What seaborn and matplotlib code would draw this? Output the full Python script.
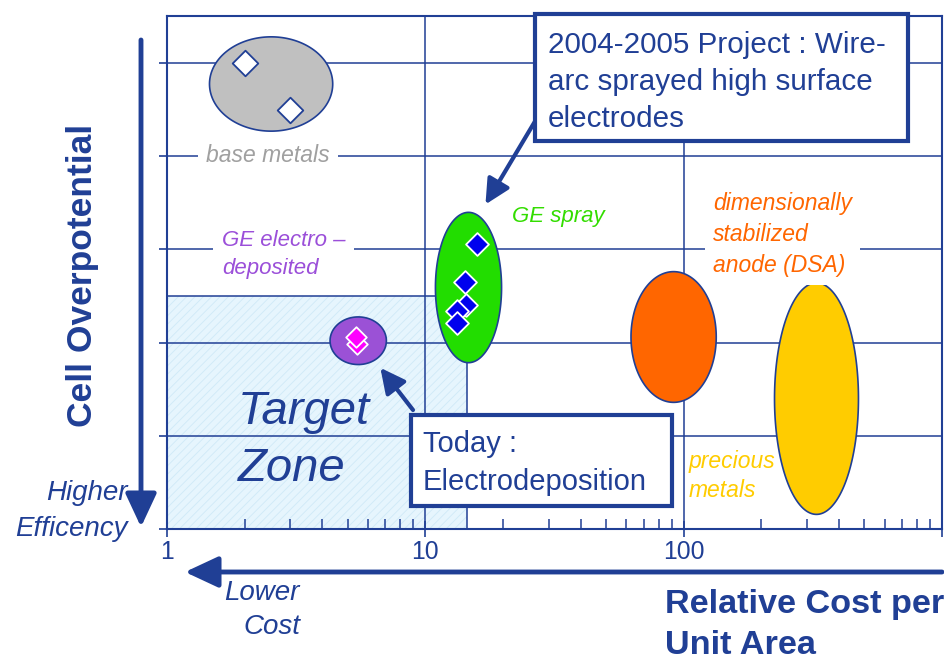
import numpy as np
import pandas as pd
import seaborn as sns
import matplotlib.pyplot as plt
from matplotlib import font_manager
from matplotlib.patches import Rectangle, FancyArrowPatch

# electrode families: ellipse centre (cost, overpotential), width in decades, height
group_names = ["base metals", "GE electro", "GE spray", "DSA", "precious metals"]
group_cost = [2.53, 5.5, 14.7, 91.5, 327]
group_level = [4.77, 2.02, 2.59, 2.06, 1.40]
group_width = [0.477, 0.218, 0.256, 0.33, 0.325]
group_height = [1.01, 0.51, 1.61, 1.40, 2.48]
group_fill = ["#c0c0c0", "#9b51d6", "#22dd00", "#ff6600", "#ffcc00"]

# measured samples
base_cost = [2.0, 3.0]
base_level = [5.0, 4.49]
electro_cost = [5.45, 5.4]
electro_level = [1.99, 2.06]
spray_cost = [15.8, 14.2, 14.4, 13.3, 13.3]
spray_level = [3.06, 2.65, 2.40, 2.34, 2.21]

# target zone
target_cost = 14.5
target_level = 2.5

xtick_values = [1, 10, 100]
xtick_labels = ["1", "10", "100"]

dark = "#203f95"

sns.set_style("white")
names = {f.name for f in font_manager.fontManager.ttflist}
has_narrow = "Liberation Sans Narrow" in names
narrow = "Liberation Sans Narrow" if has_narrow else "Liberation Sans"
ns = 1.0 if has_narrow else 0.85
plt.rcParams["font.family"] = ["Liberation Sans", "DejaVu Sans"]
plt.rcParams["hatch.linewidth"] = 0.6

fig = plt.figure(figsize=(9.45, 6.6), dpi=100)
ax = fig.add_axes([0.1767, 0.198, 0.820, 0.778])
ax.set_xscale("log")
ax.set_xlim(1, 1000)
ax.set_ylim(0, 5.5)

# target zone
ax.add_patch(Rectangle((1, 0), target_cost - 1, target_level, facecolor="#e6f5fd",
                       edgecolor="#cfe9f7", hatch="////", lw=0, zorder=0.5))
ax.add_patch(Rectangle((1, 0), target_cost - 1, target_level, facecolor="none",
                       edgecolor=dark, lw=1.1, zorder=1))

# grid
for yv in [1, 2, 3, 4, 5]:
    ax.axhline(yv, color=dark, lw=1.1, zorder=1)
for xv in [10, 100]:
    ax.axvline(xv, color=dark, lw=1.1, zorder=1)

# ellipses (drawn in log space so they look round on screen)
t = np.linspace(0, 2 * np.pi, 300)
for cx, cy, w, h, c in zip(group_cost, group_level, group_width, group_height, group_fill):
    xs = 10 ** (np.log10(cx) + w / 2 * np.cos(t))
    ys = cy + h / 2 * np.sin(t)
    ax.fill(xs, ys, facecolor=c, edgecolor=dark, lw=1.2, zorder=2)

base = pd.DataFrame({"cost": base_cost, "level": base_level})
electro = pd.DataFrame({"cost": electro_cost, "level": electro_level})
spray = pd.DataFrame({"cost": spray_cost, "level": spray_level})
sns.scatterplot(data=base, x="cost", y="level", marker="D", s=170, color="white",
                edgecolor=dark, linewidth=1.3, ax=ax, zorder=3)
sns.scatterplot(data=electro, x="cost", y="level", marker="D", s=110, color="#ff00ff",
                edgecolor="white", linewidth=1.3, ax=ax, zorder=3)
sns.scatterplot(data=spray, x="cost", y="level", marker="D", s=135, color="#0000ee",
                edgecolor="white", linewidth=1.3, ax=ax, zorder=3)

# axes styling
for sp in ax.spines.values():
    sp.set_color(dark)
    sp.set_linewidth(1.5)
ax.set_xlabel("")
ax.set_ylabel("")
ax.set_yticks([0, 1, 2, 3, 4, 5])
ax.tick_params(axis="y", which="both", left=True, direction="out", length=6,
               width=1.2, color=dark, labelleft=False)
ax.set_xticks(xtick_values + [1000])
ax.set_xticklabels(xtick_labels + [""])
ax.tick_params(axis="x", which="major", bottom=True, direction="inout", length=12,
               width=1.2, color=dark, labelcolor=dark, labelsize=21 * ns, pad=2)
ax.tick_params(axis="x", which="minor", bottom=True, direction="in", length=7,
               width=1.1, color=dark)
for lab in ax.get_xticklabels():
    lab.set_fontfamily(narrow)

# group labels
wb = dict(facecolor="white", edgecolor="none", pad=6)
ax.text(2.46, 4.0, "base metals", color="#a0a0a0", style="italic", fontsize=16.5,
        ha="center", va="center", bbox=wb, zorder=2)
ax.text(1.63, 2.94, "GE electro \u2013\ndeposited", color="#9b4fd9", style="italic",
        fontsize=16, ha="left", va="center", linespacing=1.45, bbox=wb, zorder=2)
ax.text(21.7, 3.35, "GE spray", color="#33dd00", style="italic", fontsize=16,
        ha="left", va="center", zorder=2)
ax.text(130, 3.16, "dimensionally\nstabilized\nanode (DSA)", color="#ff6600",
        style="italic", fontsize=16.5, ha="left", va="center", linespacing=1.45,
        bbox=wb, zorder=2)
ax.text(105, 0.57, "precious\nmetals", color="#ffcc00", style="italic", fontsize=16.5,
        ha="left", va="center", linespacing=1.35, zorder=4)
ax.text(1.88, 0.95, "Target\nZone", color=dark, style="italic", fontsize=34,
        ha="left", va="center", linespacing=1.4, zorder=4)

# callout boxes
fig.patches.append(Rectangle((535 / 945, 1 - 141 / 660), 373 / 945, 127 / 660,
                             transform=fig.transFigure, facecolor="white",
                             edgecolor=dark, lw=3, zorder=5))
fig.text(548 / 945, 1 - 82 / 660,
         "2004-2005 Project : Wire-\narc sprayed high surface\nelectrodes",
         color=dark, fontsize=21.3, ha="left", va="center", linespacing=1.42, zorder=6)
ax.annotate("", xy=(17.1, 3.48), xycoords="data",
            xytext=(537 / 945, 1 - 118 / 660), textcoords="figure fraction",
            arrowprops=dict(arrowstyle="-|>,head_length=0.6,head_width=0.3",
                            mutation_scale=25, lw=3, color=dark, shrinkA=0, shrinkB=0),
            zorder=5)

fig.patches.append(Rectangle((411 / 945, 1 - 506 / 660), 261 / 945, 91 / 660,
                             transform=fig.transFigure, facecolor="white",
                             edgecolor=dark, lw=3, zorder=5))
fig.text(423 / 945, 1 - 463 / 660, "Today :\nElectrodeposition", color=dark,
         fontsize=21, ha="left", va="center", linespacing=1.5, zorder=6)
ax.annotate("", xy=(6.7, 1.73), xycoords="data",
            xytext=(413 / 945, 1 - 410 / 660), textcoords="figure fraction",
            arrowprops=dict(arrowstyle="-|>,head_length=0.6,head_width=0.3",
                            mutation_scale=25, lw=3, color=dark, shrinkA=0, shrinkB=0),
            zorder=5)

# outer axis arrows and labels
fig.patches.append(FancyArrowPatch((141 / 945, 1 - 40 / 660), (141 / 945, 1 - 527 / 660),
                                   transform=fig.transFigure,
                                   arrowstyle="-|>,head_length=0.6,head_width=0.28",
                                   mutation_scale=34, lw=3.5, color=dark, shrinkA=0, shrinkB=0))
fig.patches.append(FancyArrowPatch((942 / 945, 1 - 572 / 660), (185 / 945, 1 - 572 / 660),
                                   transform=fig.transFigure,
                                   arrowstyle="-|>,head_length=0.6,head_width=0.28",
                                   mutation_scale=34, lw=3.5, color=dark, shrinkA=0, shrinkB=0))

fig.text(83 / 945, 1 - 275 / 660, "Cell Overpotential", color=dark, fontsize=30 * ns,
         fontweight="bold", family=narrow, rotation=90, ha="center", va="center")
fig.text(128 / 945, 1 - 511 / 660, "Higher\nEfficency", color=dark, fontsize=20,
         style="italic", family=narrow, ha="right", va="center", multialignment="right",
         linespacing=1.5)
fig.text(300 / 945, 1 - 610 / 660, "Lower\nCost", color=dark, fontsize=20,
         style="italic", family=narrow, ha="right", va="center", multialignment="right",
         linespacing=1.45)
fig.text(665 / 945, 1 - 625 / 660, "Relative Cost per\nUnit Area", color=dark,
         fontsize=29 * ns, fontweight="bold", family=narrow, ha="left", va="center",
         linespacing=1.4)

fig.savefig("out.png", dpi=100)
